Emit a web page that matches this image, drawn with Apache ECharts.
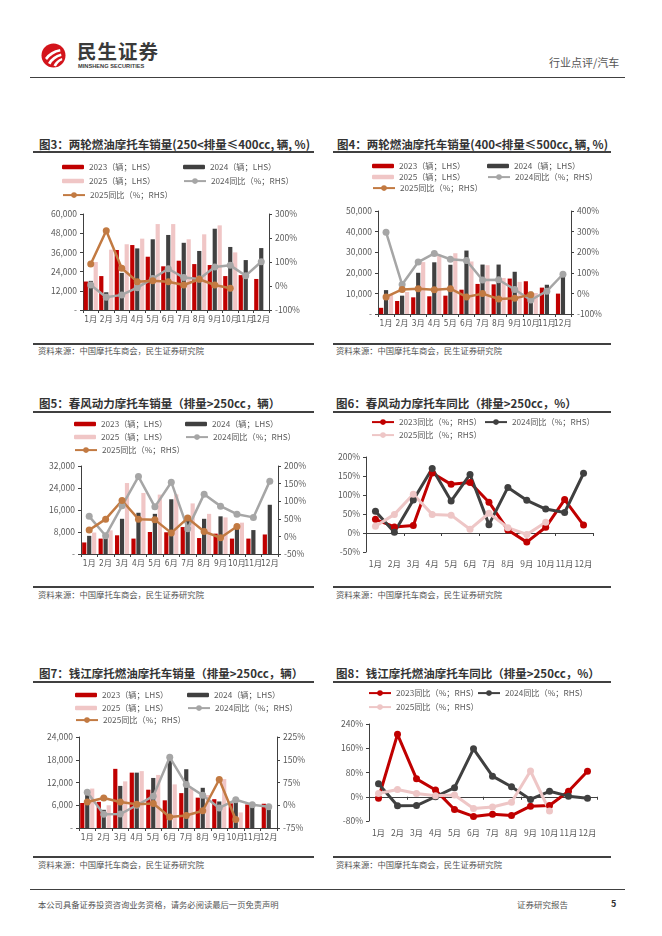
<!DOCTYPE html>
<html><head><meta charset="utf-8">
<script src="https://cdn.jsdelivr.net/npm/echarts@6.0.0/dist/echarts.min.js"></script>
<style>
html,body{margin:0;padding:0;background:#fff;}
body{width:662px;height:936px;position:relative;overflow:hidden;font-family:"Noto Sans CJK SC","Noto Sans",sans-serif;}
.t{position:absolute;white-space:nowrap;}
.hl{position:absolute;background:#404040;}
</style>
</head><body>
<script>
// ---------------- DATA ----------------
const months = ['1月','2月','3月','4月','5月','6月','7月','8月','9月','10月','11月','12月'];

// 图3 250<排量≤400cc
const f3_2023 = [17800, 21200, 37500, 40600, 33300, 27300, 30800, 28700, 28100, 21200, 21800, 19400];
const f3_2024 = [18200, 11100, 23200, 38500, 44200, 46900, 42000, 36900, 50800, 39400, 31200, 38700];
const f3_2025 = [30000, 37700, 41100, 44600, 53700, 53700, 44200, 47300, 52900, 36000];
const f3_yoy2024 = [4, -47, -37, -7, 31, 72, 35, 29, 79, 86, 43, 101];
const f3_yoy2025 = [92, 230, 74, 18, 22, 18, 4, 28, 4, -9];

// 图4 400<排量≤500cc
const f4_2023 = [3000, 6300, 8100, 8600, 8900, 11800, 14600, 14400, 17200, 15900, 12800, 9900];
const f4_2024 = [11600, 8900, 20000, 25100, 23900, 30800, 24000, 24000, 20500, 10800, 14200, 18800];
const f4_2025 = [9600, 10700, 25200, 28800, 29500, 25500, 23700, 17500, 15600, 10200];
const f4_yoy2024 = [297, 43, 152, 194, 166, 160, 65, 66, 19, -32, 11, 93];
const f4_yoy2025 = [-17, 19, 23, 18, 23, -17, -1, -27, -24, -6];

// 图5/图6 春风动力 >250cc
const f5_2023 = [4200, 5600, 6800, 5600, 8000, 7900, 9800, 5800, 7400, 5600, 5600, 7100];
const f5_2024 = [6600, 5800, 12800, 15000, 14600, 19900, 12200, 12800, 13700, 9100, 8700, 17900];
const f5_2025 = [7800, 8600, 25800, 22200, 21600, 21700, 18400, 14600, 13300, 11400];
const cf_yoy2023 = [36, 16, 20, 158, 128, 133, 81, 8, -24, 15, 88, 21];
const cf_yoy2024 = [57, 2, 87, 170, 84, 154, 22, 120, 86, 63, 54, 157];
const cf_yoy2025 = [18, 49, 102, 49, 47, 10, 52, 14, -4, 28];

// 图7/图8 钱江摩托 >250cc
const f7_2023 = [6600, 6900, 15600, 14600, 10100, 7300, 9200, 8000, 7600, 6500, 6200, 6400];
const f7_2024 = [9400, 4800, 11100, 14600, 13200, 18800, 15500, 10600, 7000, 7700, 6300, 6200];
const f7_2025 = [10400, 6000, 12300, 15000, 14000, 11500, 10400, 8700, 12900, 4100];
const qj_yoy2023 = [-5, 206, 59, 22, -42, -65, -58, -62, -31, -29, 18, 84];
const qj_yoy2024 = [43, -30, -29, 0, 30, 158, 68, 33, -9, 18, 2, -5];
const qj_yoy2025 = [11, 24, 11, 3, 6, -39, -34, -18, 85, -47];

// ---------------- STYLE ----------------
const FONT = '"Noto Sans CJK SC","Noto Sans",sans-serif';
const NARROW = '"Liberation Sans Narrow","DejaVu Sans Condensed","Noto Sans CJK SC",sans-serif';
const C_RED = '#C00000', C_DARK = '#404040', C_PINK = '#F0C6C6', C_GRAY = '#A6A6A6', C_ORG = '#C27A42', C_PINKL = '#EEC6C6';
const AX = '#404040', TX = '#595959';

// ---------------- STATIC TEXT ----------------
function T(x, yc, txt, css){
  const d = document.createElement('div'); d.className='t';
  d.style.left = x+'px'; d.style.top = (yc-10)+'px'; d.style.height='20px'; d.style.lineHeight='20px';
  d.style.cssText += css||''; d.textContent = txt; document.body.appendChild(d); return d;
}
function H(x1, x2, y, h){
  const d = document.createElement('div'); d.className='hl';
  d.style.left=x1+'px'; d.style.width=(x2-x1)+'px'; d.style.top=y+'px'; d.style.height=(h||1)+'px';
  document.body.appendChild(d);
}
// header
document.body.insertAdjacentHTML('beforeend',
 '<svg style="position:absolute;left:41px;top:43px" width="25" height="25" viewBox="0 0 25 25">'+
 '<circle cx="12.5" cy="12.5" r="12" fill="#D3141B"/>'+
 '<path d="M4 15 Q9 8 19 6 L19.5 8.5 Q11 10 6 17 Z" fill="#fff"/>'+
 '<path d="M7 20 Q11 13 20 10.5 L20.5 13 Q13 15 9.5 21.5 Z" fill="#fff"/>'+
 '<path d="M12.5 22.5 Q15 17 21 15 L21.3 17.3 Q17 19 15 23.5 Z" fill="#fff"/></svg>');
T(77, 51, '民生证券', 'font-size:19.5px;font-weight:bold;color:#3a3a3a;letter-spacing:1px;');
T(78, 65.5, 'MINSHENG SECURITIES', 'font-size:5.7px;font-weight:bold;color:#3a3a3a;font-family:"Liberation Sans",Arial,sans-serif;');
T(549, 62, '行业点评/汽车', 'font-size:11px;color:#555;');
H(30, 625, 77, 1);

// titles & sources
const TS = 'font-size:11.5px;font-weight:bold;color:#333;';
const SS = 'font-size:8.3px;color:#555;';
T(39, 144, '图3：两轮燃油摩托车销量(250<排量≤400cc, 辆, %)', TS);
T(337, 144, '图4：两轮燃油摩托车销量(400<排量≤500cc, 辆, %)', TS);
H(33, 314, 151, 1.5); H(333, 611, 151, 1.5);
H(33, 314, 343, 1.5); H(333, 611, 343, 1.5);
T(38, 350, '资料来源：中国摩托车商会，民生证券研究院', SS);
T(336, 350, '资料来源：中国摩托车商会，民生证券研究院', SS);

T(39, 403, '图5：春风动力摩托车销量（排量>250cc，辆）', TS);
T(336, 403, '图6：春风动力摩托车同比（排量>250cc，%）', TS);
H(33, 314, 411, 1.5); H(333, 611, 411, 1.5);
H(33, 314, 586, 1.5); H(333, 611, 586, 1.5);
T(38, 594, '资料来源：中国摩托车商会，民生证券研究院', SS);
T(336, 594, '资料来源：中国摩托车商会，民生证券研究院', SS);

T(39, 673, '图7：钱江摩托燃油摩托车销量（排量>250cc，辆）', TS);
T(336, 673, '图8：钱江摩托燃油摩托车同比（排量>250cc，%）', TS);
H(33, 314, 681, 1.5); H(333, 611, 681, 1.5);
H(33, 314, 856, 1.5); H(333, 611, 856, 1.5);
T(38, 864, '资料来源：中国摩托车商会，民生证券研究院', SS);
T(336, 864, '资料来源：中国摩托车商会，民生证券研究院', SS);

// footer
H(30, 625, 889, 0.8);
T(38, 904, '本公司具备证券投资咨询业务资格，请务必阅读最后一页免责声明', 'font-size:8.3px;color:#555;');
T(517, 904, '证券研究报告', 'font-size:8.5px;color:#555;');
T(611, 904, '5', 'font-size:9px;font-weight:bold;color:#333;');

// ---------------- CHART HELPERS ----------------
function mount(box, opt){
  const d = document.createElement('div');
  d.style.cssText = `position:absolute;left:${box[0]}px;top:${box[1]}px;width:${box[2]}px;height:${box[3]}px;`;
  document.body.appendChild(d);
  const c = echarts.init(d, null, {renderer:'canvas'});
  c.setOption(opt);
}
function legendItem(box, name, x, yc, kind){
  const isLine = kind === 'line';
  const ih = isLine ? 7 : 4.5;
  return {
    data:[name], left: x - box[0], top: yc - box[1] - 6, padding:0, itemGap:0,
    itemWidth: 22, itemHeight: ih, selectedMode:false,
    textStyle:{fontSize:8.2, color:TX, fontFamily:FONT, padding:[0,0,0,0]}
  };
}
const yLabel = v => v === 0 ? '-' : v.toLocaleString('en-US');
const pctLabel = v => v + '%';

function barChart(box, g, L, R, d, leg){
  const grid = {left:g[0]-box[0], top:g[1]-box[1], width:g[2]-g[0], height:g[3]-g[1]};
  const bw = 4.2;
  const lineS = (name, data, color) => ({
    name, type:'line', yAxisIndex:1, data, symbol:'circle', symbolSize:7,
    lineStyle:{width:2.5, color}, itemStyle:{color}, z:5
  });
  return {
    animation:false,
    textStyle:{fontFamily:FONT},
    grid,
    legend: leg.map(l => legendItem(box, l[0], l[1], l[2], l[3])),
    xAxis:{type:'category', data:months,
      axisLine:{lineStyle:{color:AX, width:1}},
      axisTick:{show:true, length:3, lineStyle:{color:AX}},
      axisLabel:{interval:0, fontSize:8.3, color:TX, margin:6, fontFamily:NARROW}},
    yAxis:[
      {type:'value', min:0, max:L[0], interval:L[1],
       axisLine:{show:true, lineStyle:{color:AX}}, axisTick:{show:true, length:3, lineStyle:{color:AX}},
       splitLine:{show:false}, axisLabel:{formatter:yLabel, fontSize:8.5, color:TX, margin:6, fontFamily:FONT}},
      {type:'value', min:R[0], max:R[1], interval:R[2], position:'right',
       axisLine:{show:true, lineStyle:{color:AX}}, axisTick:{show:true, length:3, lineStyle:{color:AX}},
       splitLine:{show:false}, axisLabel:{formatter:pctLabel, fontSize:8.5, color:TX, margin:6, fontFamily:FONT}}
    ],
    series:[
      {name:'2023（辆；LHS）', type:'bar', data:d[0], barWidth:bw, barGap:'18%', itemStyle:{color:C_RED}},
      {name:'2024（辆；LHS）', type:'bar', data:d[1], barWidth:bw, barGap:'18%', itemStyle:{color:C_DARK}},
      {name:'2025（辆；LHS）', type:'bar', data:d[2], barWidth:bw, barGap:'18%', itemStyle:{color:C_PINK}},
      lineS('2024同比（%；RHS）', d[3], C_GRAY),
      lineS('2025同比（%；RHS）', d[4], C_ORG)
    ]
  };
}

function lineChart(box, g, Y, d, leg){
  const grid = {left:g[0]-box[0], top:g[1]-box[1], width:g[2]-g[0], height:g[3]-g[1]};
  const lineS = (name, data, color) => ({
    name, type:'line', data, symbol:'circle', symbolSize:7,
    lineStyle:{width:3, color}, itemStyle:{color}
  });
  return {
    animation:false,
    textStyle:{fontFamily:FONT},
    grid,
    legend: leg.map(l => legendItem(box, l[0], l[1], l[2], 'line')),
    xAxis:[
      {type:'category', data:months, position:'bottom',
       axisLine:{show:false, onZero:false}, axisTick:{show:false},
       axisLabel:{interval:0, fontSize:8.5, color:TX, margin:8, fontFamily:FONT}},
      {type:'category', data:months, position:'bottom',
       axisLine:{show:true, onZero:true, lineStyle:{color:AX}},
       axisTick:{show:true, length:3, lineStyle:{color:AX}}, axisLabel:{show:false}}
    ],
    yAxis:{type:'value', min:Y[0], max:Y[1], interval:Y[2],
      axisLine:{show:true, lineStyle:{color:AX}}, axisTick:{show:true, length:3, lineStyle:{color:AX}},
      splitLine:{show:false}, axisLabel:{formatter:pctLabel, fontSize:8.5, color:TX, margin:6, fontFamily:FONT}},
    series:[
      lineS('2023同比（%；RHS）', d[0], C_RED),
      lineS('2024同比（%；RHS）', d[1], C_DARK),
      lineS('2025同比（%；RHS）', d[2], C_PINKL)
    ]
  };
}

// ---------------- CHARTS ----------------
// 图3
(function(){
  const box=[30,155,295,186];
  mount(box, barChart(box, [83,214,269,310], [60000,12000], [-100,300,100],
    [f3_2023, f3_2024, f3_2025, f3_yoy2024, f3_yoy2025],
    [['2023（辆；LHS）',62,169,'bar'],['2024（辆；LHS）',183,169,'bar'],
     ['2025（辆；LHS）',62,183,'bar'],['2024同比（%；RHS）',183,183,'line'],
     ['2025同比（%；RHS）',62,197,'line']]));
})();
// 图4
(function(){
  const box=[330,155,295,186];
  mount(box, barChart(box, [378,211,571,314], [50000,10000], [-100,400,100],
    [f4_2023, f4_2024, f4_2025, f4_yoy2024, f4_yoy2025],
    [['2023（辆；LHS）',372,168,'bar'],['2024（辆；LHS）',487,168,'bar'],
     ['2025（辆；LHS）',372,179,'bar'],['2024同比（%；RHS）',487,179,'line'],
     ['2025同比（%；RHS）',372,190,'line']]));
})();
// 图5
(function(){
  const box=[30,414,295,170];
  mount(box, barChart(box, [81,466,278,554], [32000,8000], [-50,200,50],
    [f5_2023, f5_2024, f5_2025, cf_yoy2024, cf_yoy2025],
    [['2023（辆；LHS）',74,426,'bar'],['2024（辆；LHS）',185,426,'bar'],
     ['2025（辆；LHS）',74,439,'bar'],['2024同比（%；RHS）',185,439,'line'],
     ['2025同比（%；RHS）',74,452,'line']]));
})();
// 图6
(function(){
  const box=[330,414,295,170];
  mount(box, lineChart(box, [366,457,593,552], [-50,200,50],
    [cf_yoy2023, cf_yoy2024, cf_yoy2025],
    [['2023同比（%；RHS）',371,424],['2024同比（%；RHS）',484,424],['2025同比（%；RHS）',371,437]]));
})();
// 图7
(function(){
  const box=[30,684,295,170];
  mount(box, barChart(box, [79,737,277,828], [24000,6000], [-75,225,75],
    [f7_2023, f7_2024, f7_2025, qj_yoy2024, qj_yoy2025],
    [['2023（辆；LHS）',75,697,'bar'],['2024（辆；LHS）',187,697,'bar'],
     ['2025（辆；LHS）',75,710,'bar'],['2024同比（%；RHS）',187,710,'line'],
     ['2025同比（%；RHS）',75,722,'line']]));
})();
// 图8
(function(){
  const box=[330,684,295,170];
  mount(box, lineChart(box, [369,724,597,821], [-80,240,80],
    [qj_yoy2023, qj_yoy2024, qj_yoy2025],
    [['2023同比（%；RHS）',368,695],['2024同比（%；RHS）',477,695],['2025同比（%；RHS）',368,709]]));
})();
</script>
</body></html>
